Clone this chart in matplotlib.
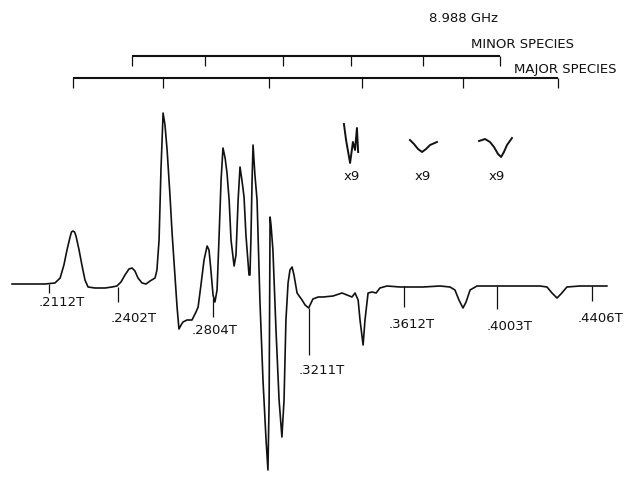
"""
EPR spectrum at 8.988 GHz with major / minor species stick diagrams.
"""
import matplotlib
matplotlib.use("Agg")
import matplotlib.pyplot as plt

# main trace, field (T) and signal (arbitrary units, baseline = 0)
field = [
    0.1956, 0.2032, 0.2095, 0.2137, 0.2159, 0.2175, 0.2188, 0.2201, 0.2207, 0.2213,
    0.2220, 0.2226, 0.2239, 0.2251, 0.2264, 0.2277, 0.2306, 0.2349, 0.2378, 0.2399,
    0.2416, 0.2433, 0.2450, 0.2463, 0.2475, 0.2488, 0.2505, 0.2522, 0.2539, 0.2560,
    0.2568, 0.2577, 0.2585, 0.2594, 0.2602, 0.2611, 0.2623, 0.2632, 0.2644, 0.2653,
    0.2661, 0.2670, 0.2678, 0.2695, 0.2716, 0.2733, 0.2742, 0.2754, 0.2767, 0.2780,
    0.2788, 0.2796, 0.2805, 0.2813, 0.2822, 0.2830, 0.2839, 0.2847, 0.2856, 0.2864,
    0.2873, 0.2881, 0.2894, 0.2902, 0.2911, 0.2919, 0.2927, 0.2936, 0.2944, 0.2957,
    0.2961, 0.2965, 0.2970, 0.2974, 0.2982, 0.2991, 0.2995, 0.3003, 0.3016, 0.3029,
    0.3037, 0.3042, 0.3046, 0.3050, 0.3058, 0.3071, 0.3084, 0.3096, 0.3105, 0.3113,
    0.3122, 0.3130, 0.3139, 0.3147, 0.3160, 0.3181, 0.3194, 0.3209, 0.3219, 0.3227,
    0.3249, 0.3270, 0.3312, 0.3350, 0.3371, 0.3392, 0.3405, 0.3418, 0.3426, 0.3439,
    0.3447, 0.3460, 0.3477, 0.3494, 0.3510, 0.3540, 0.3595, 0.3692, 0.3764, 0.3806,
    0.3827, 0.3844, 0.3861, 0.3874, 0.3891, 0.3920, 0.3975, 0.4102, 0.4186, 0.4216,
    0.4237, 0.4258, 0.4275, 0.4300, 0.4355, 0.4469,
]
signal = [
    0, 0, 0, 1, 6, 19, 34, 47, 52, 53,
    52, 48, 34, 19, 4, -3, -4, -4, -3, -2,
    2, 9, 15, 16, 13, 6, 1, 0, 3, 6,
    14, 44, 114, 171, 159, 134, 89, 51, 9, -23,
    -45, -41, -38, -36, -36, -28, -23, -1, 24, 38,
    34, 14, -11, -18, -6, 44, 104, 136, 126, 111,
    84, 44, 18, 29, 84, 117, 104, 87, 49, 9,
    9, 44, 104, 139, 109, 84, 51, -16, -96, -156,
    -186, -116, 67, 59, 34, -46, -116, -153, -116, -36,
    1, 14, 17, 9, -9, -16, -21, -24, -19, -15,
    -13, -13, -12, -9, -11, -13, -9, -16, -36, -61,
    -36, -9, -8, -9, -4, -2, -3, -3, -2, -3,
    -6, -16, -24, -18, -6, -2, -2, -2, -2, -3,
    -9, -14, -10, -3, -2, -2,
]

# x9 expanded traces
inset1_field = [0.3358, 0.3367, 0.3384, 0.3396, 0.3405, 0.3413, 0.3418]
inset1_signal = [160, 144, 121, 142, 134, 156, 132]
inset2_field = [0.3637, 0.3654, 0.3671, 0.3688, 0.3705, 0.3722, 0.3751]
inset2_signal = [144, 140, 135, 132, 135, 139, 142]
inset3_field = [0.3929, 0.3954, 0.3975, 0.3992, 0.4009, 0.4022, 0.4034, 0.4047, 0.4068]
inset3_signal = [143, 145, 142, 137, 130, 127, 132, 139, 146]
inset_gain = ["x9", "x9", "x9"]

# stick diagrams (line positions in T)
major_lines = [0.2213, 0.2594, 0.3041, 0.3434, 0.3861, 0.4262]
minor_lines = [0.2463, 0.2771, 0.3101, 0.3388, 0.3692, 0.4017]

# field markers on the trace
marker_fields = [0.2112, 0.2402, 0.2804, 0.3211, 0.3612, 0.4003, 0.4406]
marker_top = [0, -3, -14, -24, -2, -2, -2]
marker_bottom = [-9, -18, -33, -71, -23, -25, -17]
marker_labels = [".2112T", ".2402T", ".2804T", ".3211T", ".3612T", ".4003T", ".4406T"]
label_offsets = [(13, -9), (16, -16), (2, -13), (13, -15), (8, -18), (13, -17), (9, -17)]

fig = plt.figure(figsize=(6.27, 4.92), dpi=100)
ax = fig.add_axes([0, 0, 1, 1])
ax.set_xlim(0.190498, 0.455393)
ax.set_ylim(-208, 284)
ax.axis("off")

ink = "#111111"
fs = 9.5
ax.plot(field, signal, color=ink, lw=1.2, solid_joinstyle="round")
for (fx, sy), gain in zip([(inset1_field, inset1_signal), (inset2_field, inset2_signal),
                           (inset3_field, inset3_signal)], inset_gain):
    ax.plot(fx, sy, color=ink, lw=1.4, solid_joinstyle="round")
    ax.text(sum(fx) / len(fx), 107, gain, ha="center", va="center",
            fontsize=fs, color=ink)

# markers + labels
ax.vlines(marker_fields, marker_bottom, marker_top, color=ink, lw=0.9)
for f, b, lab, off in zip(marker_fields, marker_bottom, marker_labels, label_offsets):
    ax.annotate(lab, xy=(f, b), xytext=off, textcoords="offset pixels",
                ha="center", va="center", fontsize=fs, color=ink)

# stick diagrams
minor_y, major_y, tick_len = 228, 206, 10
ax.hlines(minor_y, minor_lines[0], minor_lines[-1], color=ink, lw=1.5)
ax.vlines(minor_lines, minor_y - tick_len, minor_y, color=ink, lw=0.9)
ax.hlines(major_y, major_lines[0], major_lines[-1], color=ink, lw=1.5)
ax.vlines(major_lines, major_y - tick_len, major_y, color=ink, lw=0.9)

ax.text(0.3863, 266, "8.988 GHz", ha="center", va="center", fontsize=fs, color=ink)
ax.text(0.4112, 239, "MINOR SPECIES", ha="center", va="center", fontsize=fs, color=ink)
ax.text(0.4292, 214, "MAJOR SPECIES", ha="center", va="center", fontsize=fs, color=ink)

fig.savefig("out.png", dpi=100, facecolor="white")
